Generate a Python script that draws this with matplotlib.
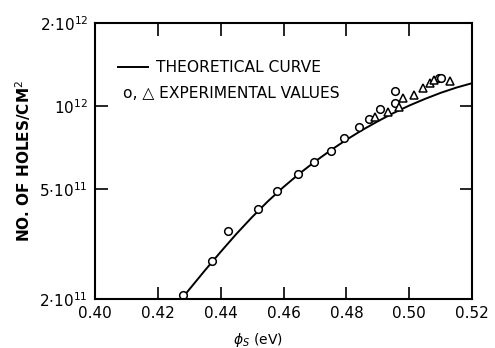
import numpy as np
import matplotlib
matplotlib.use("Agg")
import matplotlib.pyplot as plt

# theoretical curve
curve_x = [0.4275, 0.435, 0.44, 0.445, 0.45, 0.455, 0.46, 0.465, 0.47, 0.475,
           0.48, 0.485, 0.49, 0.495, 0.50, 0.505, 0.51, 0.515, 0.52]
curve_log = [11.301, 11.405, 11.472, 11.537, 11.598, 11.655, 11.707, 11.755, 11.799, 11.840,
             11.878, 11.913, 11.945, 11.975, 12.002, 12.026, 12.048, 12.067, 12.083]

# experimental values, circles
circ_x = [0.4281, 0.4372, 0.4424, 0.4517, 0.4578, 0.4647, 0.4697, 0.4750, 0.4793,
          0.4841, 0.4873, 0.4905, 0.4953, 0.4955, 0.5093, 0.5101]
circ_y = [2.06e11, 2.74e11, 3.53e11, 4.23e11, 4.92e11, 5.67e11, 6.29e11, 6.89e11, 7.68e11,
          8.42e11, 8.95e11, 9.76e11, 1.029e12, 1.137e12, 1.267e12, 1.267e12]

# experimental values, triangles
tri_x = [0.4891, 0.4932, 0.4968, 0.4979, 0.5016, 0.5042, 0.5066, 0.5079, 0.5128]
tri_y = [9.15e11, 9.54e11, 9.95e11, 1.067e12, 1.097e12, 1.166e12, 1.209e12, 1.243e12, 1.230e12]

xticks = [0.40, 0.42, 0.44, 0.46, 0.48, 0.50, 0.52]
xtick_labels = ["0.40", "0.42", "0.44", "0.46", "0.48", "0.50", "0.52"]
yticks = [2e11, 5e11, 1e12, 2e12]
ytick_labels = [r"$2{\cdot}10^{11}$", r"$5{\cdot}10^{11}$", r"$10^{12}$", r"$2{\cdot}10^{12}$"]

plt.rcParams["mathtext.fontset"] = "dejavusans"

fig = plt.figure(figsize=(4.95, 3.48), dpi=100)
ax = fig.add_axes([0.192, 0.141, 0.762, 0.793])

ax.plot(curve_x, 10 ** np.array(curve_log), color="black", lw=1.4)
ax.plot(circ_x, circ_y, "o", mfc="white", mec="black", mew=1.1, ms=5.5, ls="none")
ax.plot(tri_x, tri_y, "^", mfc="white", mec="black", mew=1.1, ms=6, ls="none")

ax.set_yscale("log")
ax.set_xlim(0.40, 0.52)
ax.set_ylim(2e11, 2e12)

ax.set_xticks(xticks)
ax.set_xticklabels(xtick_labels, fontsize=11)
ax.set_yticks(yticks)
ax.set_yticklabels(ytick_labels, fontsize=11)
ax.yaxis.set_minor_locator(matplotlib.ticker.NullLocator())
ax.tick_params(direction="in", length=9, width=1.2, top=True, right=True, pad=5)

for s in ax.spines.values():
    s.set_linewidth(1.5)

# legend drawn by hand like the original lettering
ax.plot([0.4072, 0.4167], [1.38e12, 1.38e12], color="black", lw=1.4)
ax.text(0.4195, 1.38e12, "THEORETICAL CURVE", fontsize=11.2, va="center", ha="left")
ax.text(0.4090, 1.11e12, "o, \u25b3 EXPERIMENTAL VALUES", fontsize=11.2, va="center", ha="left")

ax.set_ylabel(r"NO. OF HOLES/CM$^{2}$", fontsize=11, fontweight="bold", labelpad=5)
fig.text(258 / 495, 1 - 340 / 348, r"$\phi_S$ (eV)", fontsize=10, ha="center", va="center")

fig.savefig("out.png", dpi=100)
